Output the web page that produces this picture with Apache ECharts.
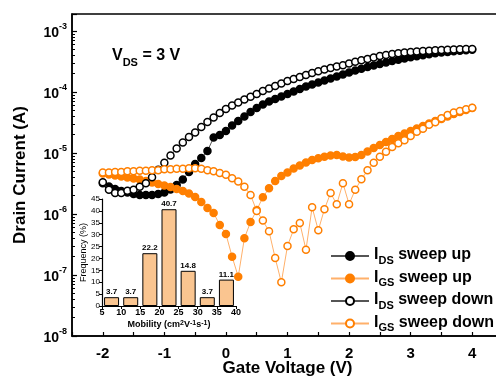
<!DOCTYPE html>
<html>
<head>
<meta charset="utf-8">
<script src="https://cdn.jsdelivr.net/npm/echarts@6/dist/echarts.min.js"></script>
<style>
html, body { margin: 0; padding: 0; background: #fff; }
#chart { width: 496px; height: 379px; }
</style>
</head>
<body>
<div id="chart"></div>
<script>
// transfer curves, V_DS = 3 V
var gateVoltage = [-2.0, -1.9, -1.8, -1.7, -1.6, -1.5, -1.4, -1.3, -1.2, -1.1,
    -1.0, -0.9, -0.8, -0.7, -0.6, -0.5, -0.4, -0.3, -0.2, -0.1,
    0.0, 0.1, 0.2, 0.3, 0.4, 0.5, 0.6, 0.7, 0.8, 0.9,
    1.0, 1.1, 1.2, 1.3, 1.4, 1.5, 1.6, 1.7, 1.8, 1.9,
    2.0, 2.1, 2.2, 2.3, 2.4, 2.5, 2.6, 2.7, 2.8, 2.9,
    3.0, 3.1, 3.2, 3.3, 3.4, 3.5, 3.6, 3.7, 3.8, 3.9, 4.0];

var idsUp = [3.18e-6, 2.82e-6, 2.57e-6, 2.38e-6, 2.25e-6, 2.13e-6, 2.05e-6, 2.05e-6, 2.05e-6, 2.13e-6,
    2.25e-6, 2.52e-6, 2.99e-6, 3.68e-6, 4.89e-6, 6.61e-6, 8.28e-6, 1.08e-5, 1.79e-5, 1.97e-5,
    2.30e-5, 2.83e-5, 3.35e-5, 3.96e-5, 4.70e-5, 5.47e-5, 6.24e-5, 6.98e-5, 7.67e-5, 8.43e-5,
    9.27e-5, 1.02e-4, 1.12e-4, 1.23e-4, 1.33e-4, 1.43e-4, 1.55e-4, 1.66e-4, 1.79e-4, 1.94e-4,
    2.09e-4, 2.25e-4, 2.40e-4, 2.57e-4, 2.72e-4, 2.88e-4, 3.05e-4, 3.22e-4, 3.37e-4, 3.54e-4,
    3.71e-4, 3.86e-4, 4.01e-4, 4.15e-4, 4.30e-4, 4.43e-4, 4.54e-4, 4.65e-4, 4.75e-4, 4.84e-4, 4.93e-4];

var igsUp = [4.61e-6, 4.45e-6, 4.28e-6, 4.12e-6, 3.96e-6, 3.82e-6, 3.68e-6, 3.48e-6, 3.28e-6, 3.10e-6,
    2.93e-6, 2.77e-6, 2.57e-6, 2.38e-6, 2.17e-6, 1.90e-6, 1.57e-6, 1.25e-6, 1.04e-6, 6.6e-7,
    4.7e-7, 2.0e-7, 9.4e-8, 4.0e-7, 7.4e-7, 1.16e-6, 1.88e-6, 2.64e-6, 3.48e-6, 4.2e-6,
    4.79e-6, 5.57e-6, 6.24e-6, 6.98e-6, 7.67e-6, 8.18e-6, 8.69e-6, 9.1e-6, 9.27e-6, 8.77e-6,
    8.43e-6, 8.59e-6, 9.27e-6, 1.06e-5, 1.21e-5, 1.35e-5, 1.51e-5, 1.70e-5, 1.90e-5, 2.09e-5,
    2.30e-5, 2.52e-5, 2.77e-5, 3.05e-5, 3.35e-5, 3.61e-5, 3.96e-5, 4.36e-5, 4.70e-5, 5.07e-5, 5.47e-5];

var idsDown = [3.3e-6, 2.5e-6, 2.2e-6, 2.2e-6, 2.4e-6, 2.5e-6, 2.8e-6, 3.2e-6, 4.0e-6, 5.3e-6,
    6.9e-6, 9.1e-6, 1.19e-5, 1.49e-5, 1.83e-5, 2.17e-5, 2.67e-5, 3.22e-5, 3.82e-5, 4.53e-5,
    5.26e-5, 6.01e-5, 6.73e-5, 7.53e-5, 8.38e-5, 9.27e-5, 1.04e-4, 1.14e-4, 1.25e-4, 1.38e-4,
    1.51e-4, 1.63e-4, 1.76e-4, 1.90e-4, 2.05e-4, 2.18e-4, 2.33e-4, 2.47e-4, 2.62e-4, 2.75e-4,
    2.92e-4, 3.13e-4, 3.31e-4, 3.48e-4, 3.67e-4, 3.89e-4, 4.05e-4, 4.20e-4, 4.33e-4, 4.45e-4,
    4.53e-4, 4.61e-4, 4.70e-4, 4.75e-4, 4.83e-4, 4.89e-4, 4.94e-4, 4.99e-4, 5.02e-4, 5.05e-4, 5.07e-4];

var igsDown = [4.8e-6, 4.8e-6, 4.9e-6, 4.9e-6, 5.0e-6, 5.0e-6, 5.1e-6, 5.1e-6, 5.2e-6, 5.2e-6,
    5.4e-6, 5.4e-6, 5.5e-6, 5.5e-6, 5.6e-6, 5.6e-6, 5.5e-6, 5.2e-6, 5.0e-6, 4.7e-6,
    4.4e-6, 3.85e-6, 3.4e-6, 2.8e-6, 2.05e-6, 1.12e-6, 7.8e-7, 5.2e-7, 1.9e-7, 7.6e-8,
    3.0e-7, 5.6e-7, 7.1e-7, 2.6e-7, 1.29e-6, 5.4e-7, 1.2e-6, 2.2e-6, 1.45e-6, 3.2e-6,
    1.45e-6, 2.5e-6, 3.7e-6, 5.2e-6, 6.9e-6, 8.7e-6, 1.05e-5, 1.26e-5, 1.45e-5, 1.62e-5,
    1.9e-5, 2.24e-5, 2.5e-5, 2.9e-5, 3.2e-5, 3.7e-5, 4.2e-5, 4.6e-5, 4.9e-5, 5.2e-5, 5.5e-5];

// inset histogram
var mobilityBinCenters = [7.5, 12.5, 17.5, 22.5, 27.5, 32.5, 37.5];
var frequency = [3.7, 3.7, 22.2, 40.7, 14.8, 3.7, 11.1];

var seriesNames = ['IDS sweep up', 'IGS sweep up', 'IDS sweep down', 'IGS sweep down'];
var legendLabels = {
    'IDS sweep up': '{m|I}{sub|DS}{m| sweep up}',
    'IGS sweep up': '{m|I}{sub|GS}{m| sweep up}',
    'IDS sweep down': '{m|I}{sub|DS}{m| sweep down}',
    'IGS sweep down': '{m|I}{sub|GS}{m| sweep down}'
};

var FONT = '"Liberation Sans", Arial, sans-serif';
var ORANGE = '#ff7f00';

function pairs(ys) {
    return gateVoltage.map(function (v, i) { return [v, ys[i]]; });
}

function curve(name, ys, fill, edge, line, z) {
    return {
        name: name,
        type: 'line',
        data: pairs(ys),
        symbol: 'circle',
        symbolSize: 7,
        z: z,
        itemStyle: { color: fill, borderColor: edge, borderWidth: 1.5 },
        lineStyle: { color: line, width: 1 },
        emphasis: { disabled: true }
    };
}

var option = {
    animation: false,
    textStyle: { fontFamily: FONT },
    grid: [
        { left: 72, width: 431, top: 14, height: 322, outerBoundsMode: 'none',
          show: true, borderColor: '#000', borderWidth: 1.5 },
        { left: 102, top: 199, width: 134, height: 107, outerBoundsMode: 'none' }
    ],
    xAxis: [
        {
            type: 'value',
            min: -2.5,
            max: 4.5,
            interval: 0.5,
            name: 'Gate Voltage (V)',
            nameLocation: 'middle',
            nameGap: 24,
            nameMoveOverlap: false,
            nameTextStyle: { fontSize: 17, fontWeight: 'bold', color: '#000', fontFamily: FONT },
            axisLine: { onZero: false, lineStyle: { color: '#000', width: 1.5 } },
            axisTick: { inside: true, length: 4, lineStyle: { color: '#000', width: 1.2 } },
            axisLabel: {
                margin: 10,
                fontSize: 15,
                fontWeight: 'bold',
                color: '#000',
                fontFamily: FONT,
                formatter: function (v) { return v % 1 === 0 ? String(v) : ''; }
            },
            splitLine: { show: false }
        },
        {
            type: 'value',
            gridIndex: 1,
            min: 5,
            max: 40,
            interval: 5,
            name: 'Mobility (cm{sup|2}V{sup|-1}s{sup|-1})',
            nameLocation: 'middle',
            nameGap: 14,
            nameMoveOverlap: false,
            nameTextStyle: {
                fontSize: 9, fontWeight: 'bold', color: '#000', fontFamily: FONT,
                rich: { sup: { fontSize: 7, fontWeight: 'bold', verticalAlign: 'top', lineHeight: 9 } }
            },
            axisLine: { onZero: false, lineStyle: { color: '#000', width: 1.2 } },
            axisTick: { length: 3, lineStyle: { color: '#000' } },
            axisLabel: { margin: 2, fontSize: 9, fontWeight: 'bold', color: '#000', fontFamily: FONT },
            splitLine: { show: false }
        }
    ],
    yAxis: [
        {
            type: 'log',
            logBase: 10,
            min: 1e-8,
            max: 1.9e-3,
            name: 'Drain Current (A)',
            nameLocation: 'middle',
            nameGap: 43,
            nameMoveOverlap: false,
            nameTextStyle: { fontSize: 17, fontWeight: 'bold', color: '#000', fontFamily: FONT },
            axisLine: { onZero: false, lineStyle: { color: '#000', width: 1.5 } },
            axisTick: { inside: true, length: 5, lineStyle: { color: '#000', width: 1.2 } },
            minorTick: { show: true, splitNumber: 9, length: 3, lineStyle: { color: '#000' } },
            axisLabel: {
                margin: 5,
                showMaxLabel: false,
                color: '#000',
                fontFamily: FONT,
                formatter: function (v) {
                    return '{b|10}{s|' + Math.round(Math.log10(v)) + '}';
                },
                rich: {
                    b: { fontSize: 14, fontWeight: 'bold', lineHeight: 18, verticalAlign: 'bottom' },
                    s: { fontSize: 9, fontWeight: 'bold', lineHeight: 18, verticalAlign: 'top' }
                }
            },
            splitLine: { show: false }
        },
        {
            type: 'value',
            gridIndex: 1,
            min: 0,
            max: 45,
            interval: 5,
            name: 'Frequency (%)',
            nameLocation: 'middle',
            nameGap: 14,
            nameMoveOverlap: false,
            nameTextStyle: { fontSize: 9, color: '#000', fontFamily: FONT },
            axisLine: { show: true, onZero: false, lineStyle: { color: '#000', width: 1.2 } },
            axisTick: { show: true, length: 3, lineStyle: { color: '#000' } },
            axisLabel: { margin: 2, fontSize: 8, color: '#000', fontFamily: FONT },
            splitLine: { show: false }
        }
    ],
    legend: {
        orient: 'vertical',
        left: 325,
        top: 242,
        itemWidth: 38,
        itemHeight: 10,
        itemGap: 3.5,
        data: seriesNames,
        formatter: function (name) { return legendLabels[name]; },
        textStyle: {
            rich: {
                m: { fontSize: 16, fontWeight: 'bold', color: '#000', fontFamily: FONT, lineHeight: 14, verticalAlign: 'bottom' },
                sub: { fontSize: 11, fontWeight: 'bold', color: '#000', fontFamily: FONT, lineHeight: 14, verticalAlign: 'bottom', padding: [0, 0, -3, 0] }
            }
        }
    },
    graphic: [
        {
            type: 'text',
            left: 112,
            top: 48,
            style: {
                text: '{v|V}{sub|DS}{v| = 3 V}',
                rich: {
                    v: { fontSize: 16, fontWeight: 'bold', fill: '#000', fontFamily: FONT, lineHeight: 18, verticalAlign: 'bottom' },
                    sub: { fontSize: 11, fontWeight: 'bold', fill: '#000', fontFamily: FONT, lineHeight: 18, verticalAlign: 'bottom', padding: [0, 0, -4, 0] }
                }
            }
        }
    ],
    series: [
        curve('IDS sweep up', idsUp, '#000', '#000', '#555', 3),
        curve('IGS sweep up', igsUp, ORANGE, ORANGE, '#ffb06a', 4),
        curve('IDS sweep down', idsDown, '#fff', '#000', '#555', 5),
        curve('IGS sweep down', igsDown, '#fff', ORANGE, '#ffb06a', 6),
        {
            name: 'mobility',
            type: 'bar',
            xAxisIndex: 1,
            yAxisIndex: 1,
            barWidth: 15,
            data: mobilityBinCenters.map(function (m, i) { return [m, frequency[i]]; }),
            itemStyle: { color: '#fac590', borderColor: '#000', borderWidth: 1 },
            label: {
                show: true,
                position: 'top',
                distance: 1,
                fontSize: 8,
                fontWeight: 'bold',
                color: '#000',
                fontFamily: FONT,
                formatter: function (p) { return p.value[1].toFixed(1); }
            },
            emphasis: { disabled: true }
        }
    ]
};

var myChart = echarts.init(document.getElementById('chart'));
myChart.setOption(option);
</script>
</body>
</html>
